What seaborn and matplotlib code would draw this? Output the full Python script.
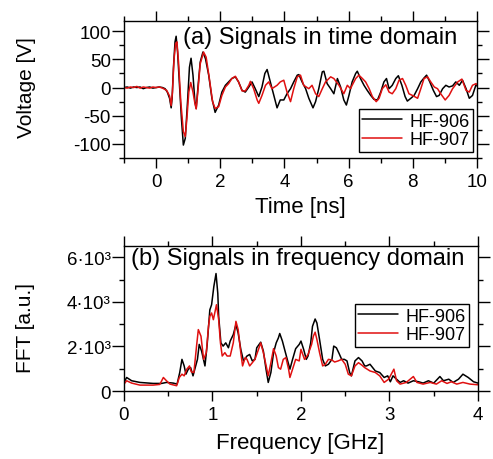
import matplotlib
matplotlib.use('Agg')
import matplotlib.pyplot as plt
from matplotlib.ticker import MultipleLocator, FixedLocator, FixedFormatter
import numpy as np
import pandas as pd
import seaborn as sns

sns.set_theme(style='ticks')
plt.rcParams['font.family'] = ['Liberation Sans', 'DejaVu Sans']
plt.rcParams['text.color'] = 'black'
plt.rcParams['axes.labelcolor'] = 'black'
plt.rcParams['xtick.color'] = 'black'
plt.rcParams['ytick.color'] = 'black'
plt.rcParams['axes.unicode_minus'] = False

# Señales en el dominio del tiempo (ns, V)
t_906 = [-1.0, -0.9, -0.8, -0.7, -0.6, -0.5, -0.4, -0.3, -0.2, -0.1,
         0.0, 0.1, 0.2, 0.28, 0.35, 0.42, 0.47, 0.5, 0.54, 0.59,
         0.625, 0.67, 0.73, 0.79, 0.85, 0.91, 0.98, 1.04, 1.09, 1.15,
         1.21, 1.25, 1.31, 1.375, 1.46, 1.54, 1.64, 1.74, 1.84, 1.95,
         2.05, 2.16, 2.26, 2.36, 2.47, 2.57, 2.68, 2.78, 2.89, 2.99,
         3.09, 3.2, 3.3, 3.39, 3.46, 3.56, 3.67, 3.77, 3.87, 3.98,
         4.08, 4.19, 4.29, 4.4, 4.45, 4.55, 4.66, 4.76, 4.89, 4.97,
         5.07, 5.18, 5.23, 5.33, 5.44, 5.54, 5.65, 5.75, 5.85, 5.93,
         6.01, 6.11, 6.22, 6.27, 6.37, 6.48, 6.58, 6.69, 6.79, 6.9,
         7.0, 7.1, 7.18, 7.26, 7.36, 7.47, 7.55, 7.66, 7.76, 7.83,
         7.94, 8.04, 8.15, 8.25, 8.35, 8.43, 8.53, 8.64, 8.74, 8.82,
         8.93, 9.03, 9.13, 9.24, 9.34, 9.45, 9.55, 9.66, 9.76, 9.86,
         9.97, 10.0]
v_906 = [0, 1, -1, 1, 0, 1, -2, 0, 1, -1,
         0, 1, 0, -2, -8, -19, -36, -19, 34, 81,
         91, 63, 4, -55, -102, -90, -25, 36, 52, 22,
         -25, -37, 4, 45, 63, 51, 22, -19, -44, -31,
         -8, 4, 10, 16, 19, 10, -5, -8, 1, 10,
         -2, -16, 1, 25, 32, 10, -14, -36, -22, -22,
         -11, -2, 10, 22, 23, 10, -2, -19, -36, -25,
         -2, 28, 29, 7, -2, -11, 16, 1, -22, -31,
         -14, 10, 25, 29, 16, 4, -5, -14, -21, -22,
         -8, 10, 16, -2, 4, 16, 21, 4, -16, -24,
         -19, -14, -2, 10, 17, 22, 10, -5, -16, -14,
         -2, 4, 1, 3, 10, 4, 13, -2, -19, -14,
         5, 3]

t_907 = [-1.0, -0.9, -0.8, -0.7, -0.6, -0.5, -0.4, -0.3, -0.2, -0.1,
         0.0, 0.1, 0.2, 0.33, 0.42, 0.47, 0.51, 0.56, 0.61, 0.65,
         0.7, 0.77, 0.85, 0.91, 0.96, 1.02, 1.08, 1.15, 1.21, 1.25,
         1.31, 1.375, 1.48, 1.56, 1.66, 1.76, 1.84, 1.95, 2.05, 2.16,
         2.26, 2.36, 2.47, 2.57, 2.68, 2.78, 2.89, 2.94, 3.04, 3.15,
         3.2, 3.3, 3.41, 3.51, 3.61, 3.77, 3.87, 3.98, 4.08, 4.19,
         4.29, 4.4, 4.5, 4.6, 4.76, 4.86, 4.97, 5.07, 5.18, 5.28,
         5.44, 5.54, 5.7, 5.85, 5.96, 6.06, 6.11, 6.22, 6.32, 6.43,
         6.53, 6.64, 6.74, 6.86, 6.95, 7.05, 7.16, 7.26, 7.36, 7.47,
         7.57, 7.68, 7.78, 7.88, 7.99, 8.15, 8.25, 8.35, 8.46, 8.56,
         8.67, 8.77, 8.87, 9.01, 9.13, 9.24, 9.4, 9.53, 9.66, 9.76,
         9.86, 9.97, 10.0]
v_907 = [0, -1, 1, 0, 2, -1, 1, 0, -1, 1,
         0, 1, -1, -5, -15, -32, -8, 51, 78, 81,
         45, -25, -78, -87, -55, -8, 9, -8, -28, -38,
         -2, 42, 63, 54, 16, -25, -37, -34, -14, 1,
         7, 16, 20, 10, -6, -6, 4, 11, -2, -22,
         -28, -14, 4, 10, -2, 4, 10, 13, -8, -25,
         -2, 19, 22, 4, -2, 4, -11, -16, -2, 10,
         19, 16, 4, -11, 4, -2, 4, 16, 22, 16,
         10, -2, -16, -25, -19, -2, 5, -8, -11, -2,
         13, 16, 4, -11, -14, -19, -2, 16, 19, 10,
         1, -2, -11, -22, -14, -2, 10, 15, -5, -8,
         4, 7, 5]

# Señales en el dominio de la frecuencia (GHz, u.a.)
f_906 = [0.0, 0.03, 0.087, 0.18, 0.33, 0.425, 0.48, 0.557, 0.6, 0.63,
         0.655, 0.68, 0.7, 0.727, 0.753, 0.78, 0.83, 0.85, 0.877, 0.915,
         0.94, 0.97, 0.99, 1.015, 1.04, 1.06, 1.07, 1.095, 1.12, 1.15,
         1.18, 1.2, 1.235, 1.265, 1.29, 1.32, 1.35, 1.39, 1.42, 1.45,
         1.48, 1.5, 1.545, 1.575, 1.605, 1.63, 1.66, 1.69, 1.72, 1.745,
         1.76, 1.79, 1.82, 1.845, 1.875, 1.905, 1.94, 1.98, 2.0, 2.03,
         2.06, 2.08, 2.11, 2.13, 2.16, 2.18, 2.21, 2.245, 2.275, 2.31,
         2.35, 2.37, 2.4, 2.43, 2.46, 2.49, 2.52, 2.55, 2.57, 2.61,
         2.65, 2.69, 2.72, 2.74, 2.78, 2.84, 2.89, 2.94, 2.98, 3.01,
         3.04, 3.08, 3.12, 3.16, 3.21, 3.27, 3.33, 3.38, 3.44, 3.5,
         3.57, 3.61, 3.67, 3.72, 3.78, 3.83, 3.89, 3.95, 4.0]
a_906 = [385, 607, 460, 385, 340, 340, 385, 355, 310, 830,
         1420, 1125, 755, 980, 1050, 680, 1420, 2090, 1790, 1125,
         2090, 3640, 3870, 4680, 5270, 4380, 3350, 2160, 2015, 2160,
         1940, 2240, 2530, 2980, 2600, 1870, 1350, 1570, 1640, 1350,
         1420, 1940, 2190, 1790, 980, 385, 830, 1720, 2160, 2385,
         2580, 2240, 1790, 1420, 980, 1420, 1900, 2090, 2240, 1870,
         1420, 1570, 2160, 2900, 3230, 3050, 2310, 1420, 1125, 1200,
         1420, 2015, 1940, 1690, 1420, 1420, 1350, 830, 680, 1350,
         1500, 1350, 1125, 1125, 1200, 900, 830, 607, 680, 415,
         680, 530, 385, 460, 355, 460, 415, 355, 460, 355,
         650, 460, 530, 385, 530, 755, 607, 415, 355]

f_907 = [0.0, 0.03, 0.087, 0.18, 0.33, 0.405, 0.445, 0.48, 0.52, 0.595,
         0.625, 0.655, 0.68, 0.71, 0.74, 0.76, 0.79, 0.82, 0.84, 0.87,
         0.9, 0.93, 0.955, 0.97, 0.99, 1.01, 1.045, 1.07, 1.09, 1.11,
         1.14, 1.165, 1.2, 1.235, 1.265, 1.29, 1.32, 1.34, 1.37, 1.39,
         1.42, 1.45, 1.48, 1.52, 1.545, 1.575, 1.605, 1.63, 1.66, 1.69,
         1.72, 1.745, 1.77, 1.8, 1.83, 1.86, 1.875, 1.905, 1.94, 1.98,
         2.0, 2.04, 2.08, 2.12, 2.14, 2.16, 2.18, 2.21, 2.245, 2.275,
         2.31, 2.35, 2.38, 2.42, 2.46, 2.5, 2.535, 2.57, 2.61, 2.65,
         2.69, 2.72, 2.78, 2.84, 2.89, 2.94, 2.99, 3.05, 3.08, 3.12,
         3.19, 3.27, 3.31, 3.38, 3.46, 3.53, 3.59, 3.65, 3.7, 3.76,
         3.83, 3.91, 4.0]
a_907 = [310, 460, 355, 265, 265, 296, 607, 460, 310, 237,
         607, 755, 680, 980, 1125, 860, 830, 2015, 2755, 2460,
         1420, 1720, 2900, 3350, 3500, 3200, 3870, 3200, 2160, 1570,
         1720, 1570, 1570, 2160, 3125, 2755, 1720, 1125, 1500, 1420,
         1125, 1270, 1420, 1870, 2160, 1720, 1155, 680, 1270, 1900,
         1570, 1050, 980, 1420, 1500, 980, 607, 980, 1420, 1350,
         1870, 1420, 1640, 2090, 2460, 2640, 2310, 1720, 1125, 1200,
         1420, 1390, 1300, 1350, 1420, 1200, 755, 680, 1125, 1270,
         1155, 1050, 900, 830, 680, 385, 530, 980, 460, 310,
         385, 650, 385, 310, 385, 310, 460, 340, 415, 310,
         385, 310, 280]

colores = {'HF-906': 'black', 'HF-907': '#e01010'}

tiempo = pd.concat([
    pd.DataFrame({'t': t_906, 'v': v_906, 'serie': 'HF-906'}),
    pd.DataFrame({'t': t_907, 'v': v_907, 'serie': 'HF-907'}),
])
frecuencia = pd.concat([
    pd.DataFrame({'f': f_906, 'a': a_906, 'serie': 'HF-906'}),
    pd.DataFrame({'f': f_907, 'a': a_907, 'serie': 'HF-907'}),
])

fig = plt.figure(figsize=(4.93, 4.60), dpi=100)
ax1 = fig.add_axes([0.2515, 0.6543, 0.716, 0.2978])
ax2 = fig.add_axes([0.2515, 0.1478, 0.718, 0.315])

sns.lineplot(data=tiempo, x='t', y='v', hue='serie', palette=colores,
             estimator=None, sort=False, lw=1.1, ax=ax1)
sns.lineplot(data=frecuencia, x='f', y='a', hue='serie', palette=colores,
             estimator=None, sort=False, lw=1.1, ax=ax2)

# Ejes y marcas
for ax in (ax1, ax2):
    for s in ax.spines.values():
        s.set_linewidth(1.0)
        s.set_color('black')
    ax.tick_params(which='both', direction='out', top=True, right=True,
                   width=1.0, color='black', labelsize=13.5, labelcolor='black')
    ax.tick_params(axis='x', which='major', length=7, pad=4)
    ax.tick_params(axis='y', which='major', length=8.5, pad=1)
    ax.tick_params(which='minor', length=3.5)

ax1.set_xlim(-1, 10)
ax1.set_ylim(-125, 118)
ax1.xaxis.set_major_locator(MultipleLocator(2))
ax1.xaxis.set_minor_locator(MultipleLocator(1))
ax1.yaxis.set_major_locator(MultipleLocator(50))
ax1.yaxis.set_minor_locator(MultipleLocator(25))

ax2.set_xlim(0, 4)
ax2.set_ylim(0, 6500)
ax2.xaxis.set_major_locator(MultipleLocator(1))
ax2.xaxis.set_minor_locator(MultipleLocator(0.5))
ax2.yaxis.set_major_locator(FixedLocator([0, 2000, 4000, 6000]))
ax2.yaxis.set_major_formatter(FixedFormatter(['0', '2·10³', '4·10³', '6·10³']))
ax2.yaxis.set_minor_locator(MultipleLocator(1000))

ax1.set_xlabel('Time [ns]', fontsize=16)
ax1.set_ylabel('Voltage [V]', fontsize=15)
ax2.set_xlabel('Frequency [GHz]', fontsize=16)
ax2.set_ylabel('FFT [a.u.]', fontsize=15)
ax1.xaxis.set_label_coords(0.5, -0.277)
ax2.xaxis.set_label_coords(0.497, -0.283)
ax1.yaxis.set_label_coords(-0.25, 0.52)
ax2.yaxis.set_label_coords(-0.25, 0.44)

ax1.text(0.168, 0.88, '(a) Signals in time domain', transform=ax1.transAxes,
         fontsize=17, ha='left', va='center')
ax2.text(0.02, 0.917, '(b) Signals in frequency domain', transform=ax2.transAxes,
         fontsize=17, ha='left', va='center')

# Leyendas
for ax, ancla in ((ax1, (0.9887, 0.044)), (ax2, (0.975, 0.303))):
    handles, labels = ax.get_legend_handles_labels()
    leg = ax.legend(handles, labels, loc='lower right', bbox_to_anchor=ancla,
                    fontsize=13, frameon=True, fancybox=False, edgecolor='black',
                    framealpha=1, handlelength=2.2, handletextpad=0.4,
                    borderpad=0.2, labelspacing=0.1, borderaxespad=0)
    leg.get_frame().set_linewidth(1.0)

fig.savefig('out.png', dpi=100)
